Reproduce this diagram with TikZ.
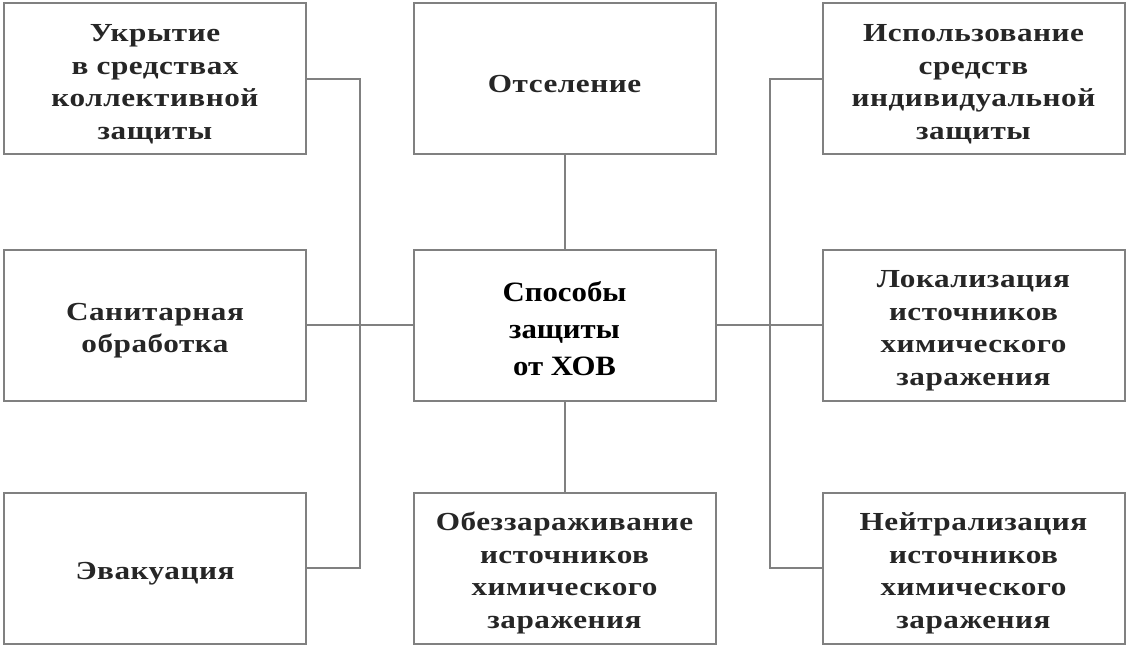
\documentclass[tikz,border=0pt]{standalone}
\usepackage{fontspec}
\setmainfont{Liberation Serif}

\begin{document}
\begin{tikzpicture}[x=1pt,y=-1pt,
    box/.style={draw=gray,line width=2pt,minimum width=302pt,minimum height=151pt,
        align=center,inner sep=0pt,text=black!85,
        font=\fontsize{26}{32.5}\selectfont\bfseries\addfontfeatures{FakeStretch=1.2,LetterSpace=2}},
    mainbox/.style={box,text=black,
        font=\fontsize{28}{37}\selectfont\bfseries\addfontfeatures{FakeStretch=1.1}},
    link/.style={draw=gray,line width=2pt}]
    \pgfmathsetmacro{\leftcol}{155}
    \pgfmathsetmacro{\midcol}{564.5}
    \pgfmathsetmacro{\rightcol}{973.5}
    \pgfmathsetmacro{\toprow}{78.5}
    \pgfmathsetmacro{\midrow}{325}
    \pgfmathsetmacro{\botrow}{568}
    \providecommand{\topgap}{\rule{0pt}{29pt}}
    \providecommand{\maingap}{\rule{0pt}{26.5pt}}
    \useasboundingbox (0,0) rectangle (1128,648);
    % left column
    \node[box] (ukrytie) at (\leftcol,\toprow) {\topgap Укрытие\\в средствах\\коллективной\\защиты};
    \node[box] (sanobr) at (\leftcol,\midrow) {\topgap Санитарная\\обработка};
    \node[box] (evak) at (\leftcol,\botrow) {\topgap Эвакуация};
    % middle column
    \node[box] (otsel) at (\midcol,\toprow) {\topgap Отселение};
    \node[mainbox] (sposoby) at (\midcol,\midrow) {\maingap Способы\\защиты\\от ХОВ};
    \node[box] (obezz) at (\midcol,\botrow) {\topgap Обеззараживание\\источников\\химического\\заражения};
    % right column
    \node[box] (sizk) at (\rightcol,\toprow) {\topgap Использование\\средств\\индивидуальной\\защиты};
    \node[box] (lokal) at (\rightcol,\midrow) {\topgap Локализация\\источников\\химического\\заражения};
    \node[box] (neitr) at (\rightcol,\botrow) {\topgap Нейтрализация\\источников\\химического\\заражения};
    % buses
    \coordinate (lbus) at (360,\midrow);
    \coordinate (rbus) at (770,\midrow);
    \draw[link] (ukrytie.east) -| (lbus);
    \draw[link] (evak.east) -| (lbus);
    \draw[link] (sanobr.east) -- (sposoby.west);
    \draw[link] (sizk.west) -| (rbus);
    \draw[link] (neitr.west) -| (rbus);
    \draw[link] (sposoby.east) -- (lokal.west);
    \draw[link] (otsel) -- (sposoby);
    \draw[link] (sposoby) -- (obezz);
\end{tikzpicture}
\end{document}
